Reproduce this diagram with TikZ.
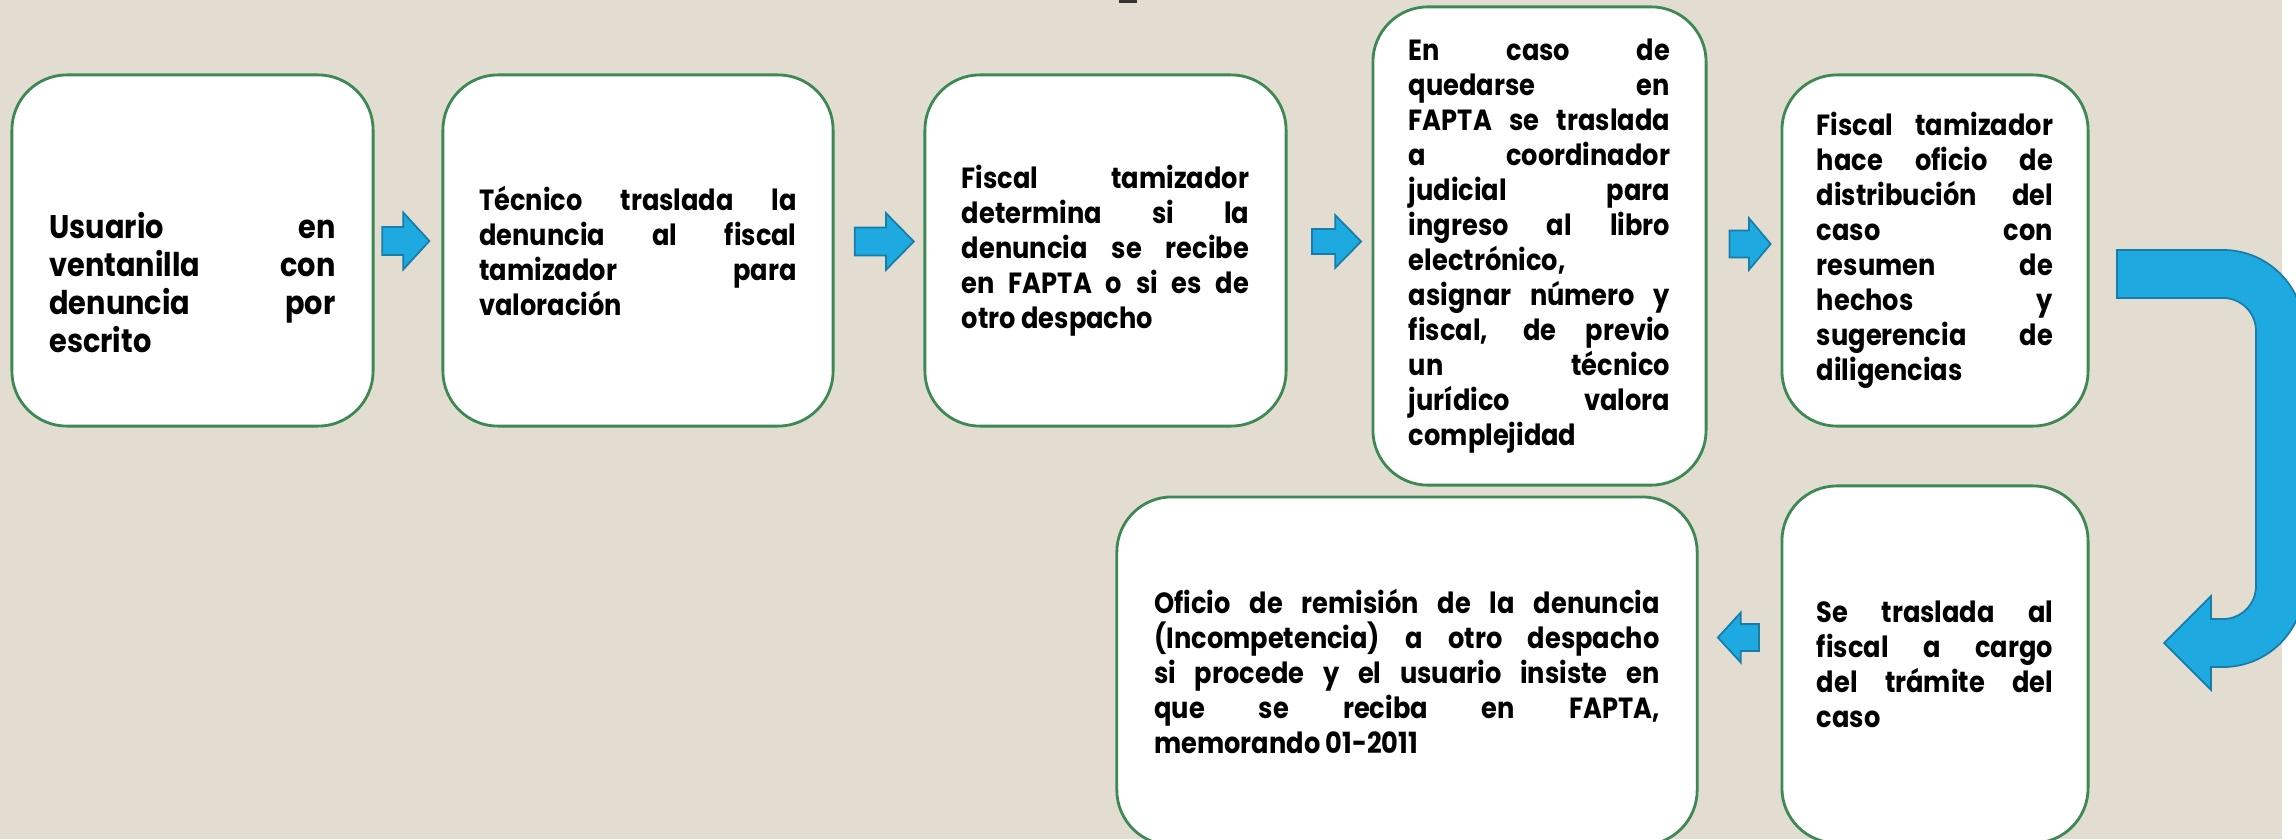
\documentclass[tikz,border=0pt]{standalone}
\usepackage{fontspec}
\setmainfont{Poppins}[FakeStretch=0.88]
\usetikzlibrary{shapes.arrows}
\definecolor{fondo}{RGB}{227,221,209}
\definecolor{verdeborde}{RGB}{62,137,83}
\definecolor{azulflecha}{RGB}{30,170,225}
\definecolor{azulborde}{RGB}{24,124,168}
\hyphenpenalty=10000
\exhyphenpenalty=10000
\tikzset{
	caja/.style={draw=verdeborde, line width=0.8pt, fill=white, rounded corners=0.55cm, inner sep=0pt, align=justify, font=\bfseries\fontsize{8.3pt}{9.96pt}\selectfont},
	flecha/.style={shape=single arrow, draw=azulborde, fill=azulflecha, line width=0.5pt, inner xsep=0pt, single arrow tip angle=95},
}

\begin{document}
\begin{tikzpicture}[x=0.01cm, y=-0.01cm]
		%%%%% START %%%%%
		
		\useasboundingbox (0, 0) rectangle (2296, 839);
		\fill[fondo] (0, 0) rectangle (2282, 839);
		\fill[white] (2282, 0) rectangle (2296, 839);
		\fill[black!80] (1119, 0) rectangle (1137, 2.5);
		
		\node[caja, minimum width=3.61cm, minimum height=3.51cm, text width=2.86cm, font=\bfseries\fontsize{9.3pt}{10.8pt}\selectfont] (b1) at (192.5, 250.5) {\rule{0pt}{0.9cm}Usuario en \linebreak ventanilla con \linebreak denuncia por \linebreak escrito};
		\node[caja, minimum width=3.90cm, minimum height=3.51cm, text width=3.17cm] (b2) at (638, 250.5) {Técnico traslada la \linebreak denuncia al fiscal \linebreak tamizador para \linebreak valoración};
		\node[caja, minimum width=3.61cm, minimum height=3.51cm, text width=2.87cm] (b3) at (1105.5, 250.5) {Fiscal tamizador \linebreak determina si la \linebreak denuncia se recibe \linebreak en FAPTA o si es de \linebreak otro despacho};
		\node[caja, minimum width=3.33cm, minimum height=4.78cm, text width=2.61cm] (b4) at (1539.5, 246) {En caso de \linebreak quedarse en \linebreak FAPTA se traslada \linebreak a coordinador \linebreak judicial para \linebreak ingreso al libro \linebreak electrónico, \linebreak asignar número y \linebreak fiscal, de previo \linebreak un técnico \linebreak jurídico valora \linebreak complejidad};
		\node[caja, minimum width=3.06cm, minimum height=3.51cm, text width=2.36cm] (b5) at (1935, 250.5) {Fiscal tamizador \linebreak hace oficio de \linebreak distribución del \linebreak caso con \linebreak resumen de \linebreak hechos y \linebreak sugerencia de \linebreak diligencias};
		\node[caja, minimum width=3.06cm, minimum height=3.57cm, text width=2.36cm] (b7) at (1935, 664.5) {Se traslada al \linebreak fiscal a cargo \linebreak del trámite del \linebreak caso};
		\node[caja, minimum width=5.80cm, minimum height=3.48cm, text width=5.05cm] (b6) at (1407, 671) {Oficio de remisión de la denuncia \linebreak (Incompetencia) a otro despacho \linebreak si procede y el usuario insiste en \linebreak que se reciba en FAPTA, \linebreak memorando 01-2011};
		
		\node[flecha, minimum height=0.47cm, inner ysep=0.13cm, single arrow head extend=0.145cm] (f1) at (399.5, 241) {};
		\node[flecha, minimum height=0.59cm, inner ysep=0.13cm, single arrow head extend=0.145cm, single arrow tip angle=91] (f2) at (877.5, 241.5) {};
		\node[flecha, minimum height=0.49cm, inner ysep=0.115cm, single arrow head extend=0.14cm, single arrow tip angle=91] (f3) at (1330.5, 241.5) {};
		\node[flecha, minimum height=0.41cm, inner ysep=0.125cm, single arrow head extend=0.125cm, single arrow tip angle=100] (f4) at (1744.5, 244) {};
		\node[flecha, minimum height=0.41cm, inner ysep=0.125cm, single arrow head extend=0.115cm, rotate=180] (f5) at (1744.5, 637.5) {};
		
		\draw[draw=azulborde, fill=azulflecha, line width=0.5pt] (2117, 250) -- (2223, 250) arc (-90:0:81) -- (2304, 586) arc (0:90:81) -- (2211, 667) -- (2211, 690) -- (2164, 643) -- (2211, 596) -- (2211, 619) -- (2223, 619) arc (90:0:33) -- (2256, 331) arc (0:-90:33) -- (2117, 298) -- cycle;
		
		%%%%% END %%%%%
\end{tikzpicture}
\end{document}
